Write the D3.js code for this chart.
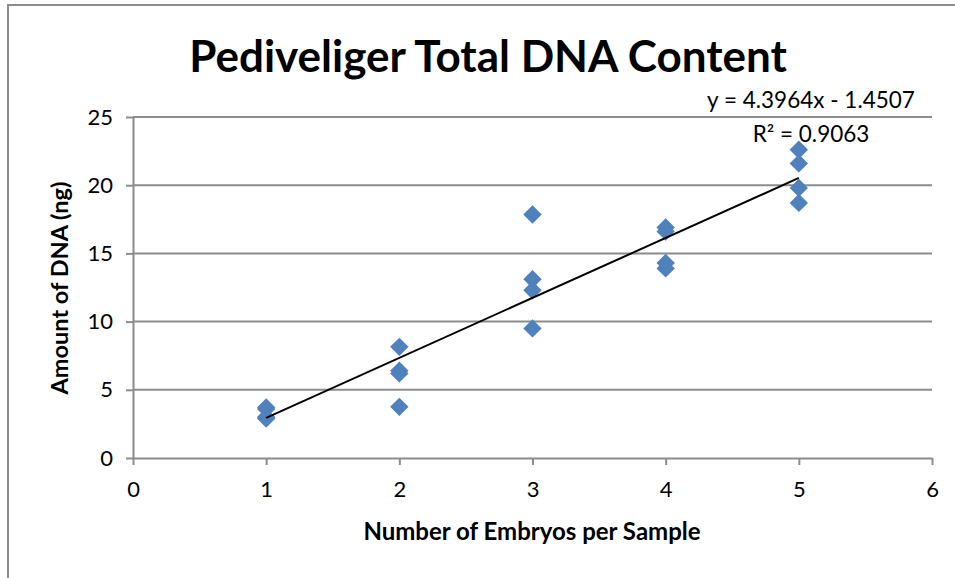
<!DOCTYPE html>
<html>
<head>
<meta charset="utf-8">
<script src="https://cdn.jsdelivr.net/npm/d3@7"></script>
<style>
  body { margin: 0; background: #fff; }
  text { font-family: Lato, "Open Sans", sans-serif; fill: #000; }
</style>
</head>
<body>
<div id="chart"></div>
<script>
// embryos per sample, and DNA (ng)
const embryos = [1, 1, 1, 1, 2, 2, 2, 2, 3, 3, 3, 3, 4, 4, 4, 4, 5, 5, 5, 5];
const dnaNg = [3.7, 3.6, 3.0, 2.9, 8.15, 6.4, 6.2, 3.75, 17.85, 13.1, 12.3, 9.5, 16.9, 16.6, 14.3, 13.9, 22.6, 21.6, 19.8, 18.7];
const xTicks = [0, 1, 2, 3, 4, 5, 6];
const yTicks = [0, 5, 10, 15, 20, 25];
const trend = { slope: 4.3964, intercept: -1.4507, r2: 0.9063 };

const W = 955, H = 578;
const plot = { left: 133, right: 932, top: 117, bottom: 458 };

const svg = d3.select('#chart').append('svg')
  .attr('width', W)
  .attr('height', H);

// chart border (top and left only visible)
svg.append('path')
  .attr('d', `M8,${H} L8,5 L${W},5`)
  .attr('fill', 'none')
  .attr('stroke', '#8c8c8c')
  .attr('stroke-width', 2);

const x = d3.scaleLinear().domain([0, 6]).range([plot.left, plot.right]);
const y = d3.scaleLinear().domain([0, 25]).range([plot.bottom, plot.top]);

// gridlines
svg.append('g')
  .selectAll('line')
  .data(yTicks.filter(d => d > 0))
  .enter()
  .append('line')
  .attr('x1', plot.left)
  .attr('x2', plot.right)
  .attr('y1', d => y(d))
  .attr('y2', d => y(d))
  .attr('stroke', '#8c8c8c')
  .attr('stroke-width', 2);

const yAxis = svg.append('g')
  .attr('transform', `translate(${plot.left},0)`)
  .call(d3.axisLeft(y).tickValues(yTicks).tickFormat(d3.format('d'))
    .tickSize(7).tickPadding(13).tickSizeOuter(0));

const xAxis = svg.append('g')
  .attr('transform', `translate(0,${plot.bottom})`)
  .call(d3.axisBottom(x).tickValues(xTicks).tickFormat(d3.format('d'))
    .tickSize(7).tickPadding(16).tickSizeOuter(0));

[yAxis, xAxis].forEach(ax => {
  ax.selectAll('path, line').attr('stroke', '#8c8c8c').attr('stroke-width', 2);
  ax.selectAll('text').style('font-size', '22px').attr('fill', '#000');
});

// points
const side = 13;
svg.append('g')
  .selectAll('path')
  .data(embryos.map((e, i) => [e, dnaNg[i]]))
  .enter()
  .append('path')
  .attr('d', d3.symbol().type(d3.symbolSquare).size(side * side))
  .attr('transform', d => `translate(${x(d[0])},${y(d[1])}) rotate(45)`)
  .attr('fill', '#4f81bd');

// linear trendline over the data range
const xr = d3.extent(embryos);
svg.append('line')
  .attr('x1', x(xr[0]))
  .attr('y1', y(trend.slope * xr[0] + trend.intercept))
  .attr('x2', x(xr[1]))
  .attr('y2', y(trend.slope * xr[1] + trend.intercept))
  .attr('stroke', '#000')
  .attr('stroke-width', 2);

svg.append('text')
  .attr('x', 811)
  .attr('y', 108)
  .attr('text-anchor', 'middle')
  .style('font-size', '22.5px')
  .text(`y = ${trend.slope}x - ${Math.abs(trend.intercept)}`);

svg.append('text')
  .attr('x', 811)
  .attr('y', 142)
  .attr('text-anchor', 'middle')
  .style('font-size', '22.5px')
  .text(`R² = ${trend.r2}`);

// titles
svg.append('text')
  .attr('x', 488)
  .attr('y', 72)
  .attr('text-anchor', 'middle')
  .style('font-size', '44px')
  .style('font-weight', 'bold')
  .text('Pediveliger Total DNA Content');

svg.append('text')
  .attr('x', 532)
  .attr('y', 540)
  .attr('text-anchor', 'middle')
  .style('font-size', '24px')
  .style('font-weight', 'bold')
  .text('Number of Embryos per Sample');

svg.append('text')
  .attr('transform', 'translate(68,288) rotate(-90)')
  .attr('text-anchor', 'middle')
  .style('font-size', '23.5px')
  .style('font-weight', 'bold')
  .text('Amount of DNA (ng)');
</script>
</body>
</html>
